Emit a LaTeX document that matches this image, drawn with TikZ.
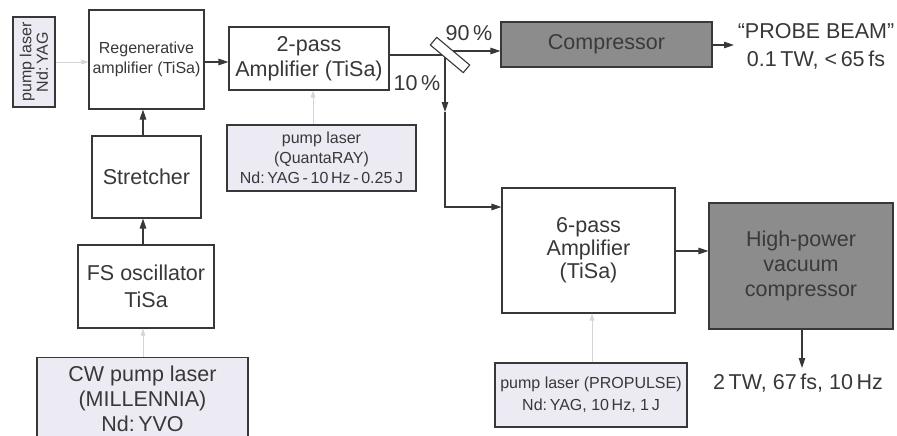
\documentclass[tikz,border=0pt]{standalone}
\usepackage{fontspec}
\setmainfont{Liberation Sans}
\usetikzlibrary{arrows.meta}
\definecolor{ink}{HTML}{383838}
\definecolor{pumpfill}{HTML}{ECEBF4}
\definecolor{darkfill}{HTML}{8C8C8C}
\definecolor{darktext}{HTML}{3A3A3A}
\definecolor{faint}{HTML}{D4D4DA}
\begin{document}
\begin{tikzpicture}[x=1pt,y=-1pt,
  box/.style={draw=ink, line width=1.1pt, rectangle, align=center, text=ink, inner sep=0pt},
  bigtxt/.style={font=\fontsize{21.5}{25}\selectfont},
  smalltxt/.style={font=\fontsize{16}{20}\selectfont},
  pumpbox/.style={box, fill=pumpfill},
  darkbox/.style={box, fill=darkfill, text=darktext},
  arr/.style={draw=ink, line width=1.1pt, -{Triangle[length=10pt,width=6.5pt]}},
  pumparr/.style={draw=faint, line width=0.9pt, -{Triangle[length=7pt,width=4.5pt]}},
  beam/.style={draw=ink, line width=1.1pt},
  lbl/.style={text=ink, align=center, inner sep=0pt}]
\useasboundingbox (0,0) rectangle (897,436);
\clip (0,0) rectangle (897,436);
\fill[white] (0,0) rectangle (897,436);

% nodes
\node[pumpbox, rotate=90, minimum width=90pt, minimum height=42pt, font=\fontsize{16}{16.5}\selectfont] (yag) at (34,62) {pump laser\\Nd:\,YAG};
\node[box, smalltxt, minimum width=115pt, minimum height=99pt] (regen) at (146.5,59.5) {Regenerative\\amplifier (TiSa)};
\node[box, bigtxt, minimum width=160pt, minimum height=63pt] (two) at (309,58.5) {2-pass\\Amplifier (TiSa)};
\node[pumpbox, smalltxt, minimum width=189pt, minimum height=66pt] (quanta) at (321.5,158) {pump laser\\(QuantaRAY)\\Nd:\,YAG\,-\,10\,Hz\,-\,0.25\,J};
\node[box, bigtxt, minimum width=109pt, minimum height=82pt] (str) at (146.5,177) {Stretcher};
\node[box, font=\fontsize{21.5}{27}\selectfont, minimum width=136pt, minimum height=83pt] (fs) at (146,286.5) {FS oscillator\\TiSa};
\node[pumpbox, bigtxt, minimum width=211pt, minimum height=82pt, anchor=north] (cw) at (142.5,357) {CW pump laser\\(MILLENNIA)\\Nd:\,YVO};
\node[darkbox, bigtxt, minimum width=211pt, minimum height=45pt] (comp) at (606.5,44.5) {Compressor};
\node[box, font=\fontsize{21.5}{23}\selectfont, minimum width=173pt, minimum height=125pt] (six) at (588.5,250.5) {6-pass\\Amplifier\\(TiSa)};
\node[darkbox, bigtxt, minimum width=184pt, minimum height=126pt] (hp) at (801,266) {High-power\\vacuum\\compressor};
\node[pumpbox, font=\fontsize{16}{22}\selectfont, minimum width=192pt, minimum height=64pt] (prop) at (591,395) {pump laser (PROPULSE)\\Nd:\,YAG, 10\,Hz, 1\,J};
\node[lbl, font=\fontsize{21.5}{28}\selectfont] (probe) at (816,46) {“PROBE BEAM”\\0.1\,TW, <\,65\,fs};
\node[lbl, bigtxt] (out) at (798,383) {2\,TW, 67\,fs, 10\,Hz};
\node[lbl, bigtxt] (ten) at (417,83) {10\,\%};
\node[lbl, bigtxt] (ninety) at (469,33) {90\,\%};

% coordinates
\coordinate (hit) at (445,55);
\coordinate (split) at (445,112);
\coordinate (turn) at (445,207);
\coordinate (refl) at (453,51);
\coordinate (probeend) at (734,45);
\coordinate (outend) at (802,368);

% connectors
\draw[pumparr] (yag.south) -- (regen.west |- yag.south);
\draw[arr] (regen.east |- 0,62) -- (two.west |- 0,62);
\draw[pumparr] (quanta.north -| 313,0) -- (two.south -| 313,0);
\draw[arr] (str.north -| 143,0) -- (regen.south -| 143,0);
\draw[arr] (fs.north -| 143,0) -- (str.south -| 143,0);
\draw[pumparr] (cw.north -| 143,0) -- (fs.south -| 143,0);
\draw[beam] (two.east |- hit) -- (hit);
\draw[arr] (hit) -- (split);
\draw[arr] (split) -- (turn) -- (six.west |- turn);
\draw[arr] (refl) -- (comp.west |- refl);
\draw[arr] (comp.east |- probeend) -- (probeend);
\draw[arr] (six.east |- 0,251) -- (hp.west |- 0,251);
\draw[arr] (hp.south -| outend) -- (outend);
\draw[pumparr] (prop.north -| 592,0) -- (six.south -| 592,0);

% beam splitter mirror
\node[draw=ink, line width=1.1pt, fill=white, rectangle, minimum width=43pt, minimum height=10pt, inner sep=0pt, rotate=-40] (mirror) at (450,55) {};
\end{tikzpicture}
\end{document}
